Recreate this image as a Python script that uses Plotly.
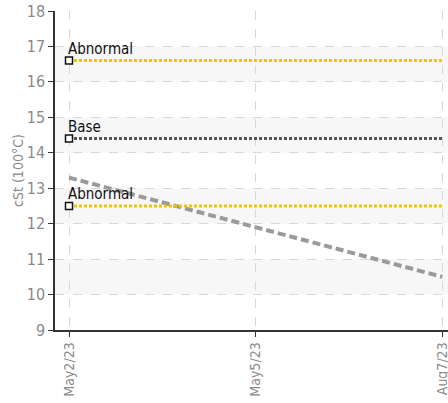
import plotly.graph_objects as go

categories = ["May2/23", "May5/23", "Aug7/23"]
trend_values = [13.3, 11.9, 10.5]
abnormal_high = [16.6, 16.6, 16.6]
base_values = [14.4, 14.4, 14.4]
abnormal_low = [12.5, 12.5, 12.5]
ref_labels = ["Abnormal", "Base", "Abnormal"]
ytick_vals = list(range(9, 19))
band_ranges = [(10, 11), (12, 13), (14, 15), (16, 17)]

FONT = "DejaVu Sans Condensed, Liberation Sans Narrow, Roboto, Arial"
xpos = list(range(len(categories)))

fig = go.Figure()

for lo, hi in band_ranges:
    fig.add_shape(type="rect", xref="paper", x0=0, x1=1, yref="y", y0=lo, y1=hi,
                  fillcolor="#f7f7f7", line=dict(width=0), layer="below")

fig.add_trace(go.Scatter(x=xpos, y=trend_values, mode="lines",
                         line=dict(color="#9a9a9a", width=4, dash="8px,4px"),
                         showlegend=False, hoverinfo="skip"))

ref_series = [(abnormal_high, "#f5c400"), (base_values, "#555555"), (abnormal_low, "#f5c400")]
for vals, col in ref_series:
    fig.add_trace(go.Scatter(x=xpos, y=vals, mode="lines",
                             line=dict(color=col, width=3, dash="3px,2px"),
                             showlegend=False, hoverinfo="skip"))

for (vals, col), lab in zip(ref_series, ref_labels):
    fig.add_trace(go.Scatter(x=[xpos[0]], y=[vals[0]], mode="markers",
                             marker=dict(symbol="square", size=7, color="white",
                                         line=dict(color="#111111", width=1.5)),
                             showlegend=False, hoverinfo="skip"))
    fig.add_annotation(x=xpos[0], y=vals[0], text=lab, showarrow=False,
                       xanchor="left", yanchor="bottom", yshift=1, xshift=-3,
                       font=dict(family=FONT, size=15, color="#111111"))

fig.update_xaxes(range=[-0.075, 2.03], tickvals=xpos, ticktext=categories,
                 tickangle=-90, showgrid=True, gridcolor="#d8d8d8", griddash="dash",
                 gridwidth=1, zeroline=False, showline=True, linecolor="#333333",
                 linewidth=1.5, ticks="outside", ticklen=5, tickcolor="#333333",
                 automargin=False, ticklabeloverflow="allow",
                 tickfont=dict(family=FONT, size=14, color="#8a8a8a"))
fig.update_yaxes(range=[9, 18], tickvals=ytick_vals, showgrid=True,
                 gridcolor="#d8d8d8", griddash="dash", gridwidth=1, zeroline=False,
                 showline=True, linecolor="#333333", linewidth=1.5, ticks="outside",
                 ticklen=5, tickcolor="#333333", automargin=False,
                 ticklabeloverflow="allow",
                 tickfont=dict(family=FONT, size=16, color="#8a8a8a"),
                 title=dict(text="cSt (100°C)", standoff=0,
                            font=dict(family=FONT, size=14, color="#8a8a8a")))

fig.update_layout(width=448, height=403, margin=dict(l=55, r=0, t=11, b=73),
                  plot_bgcolor="white", paper_bgcolor="white")

fig.write_html("out.html", config={"displayModeBar": False},
               post_script="document.body.style.margin='0';document.body.style.overflow='hidden';")
